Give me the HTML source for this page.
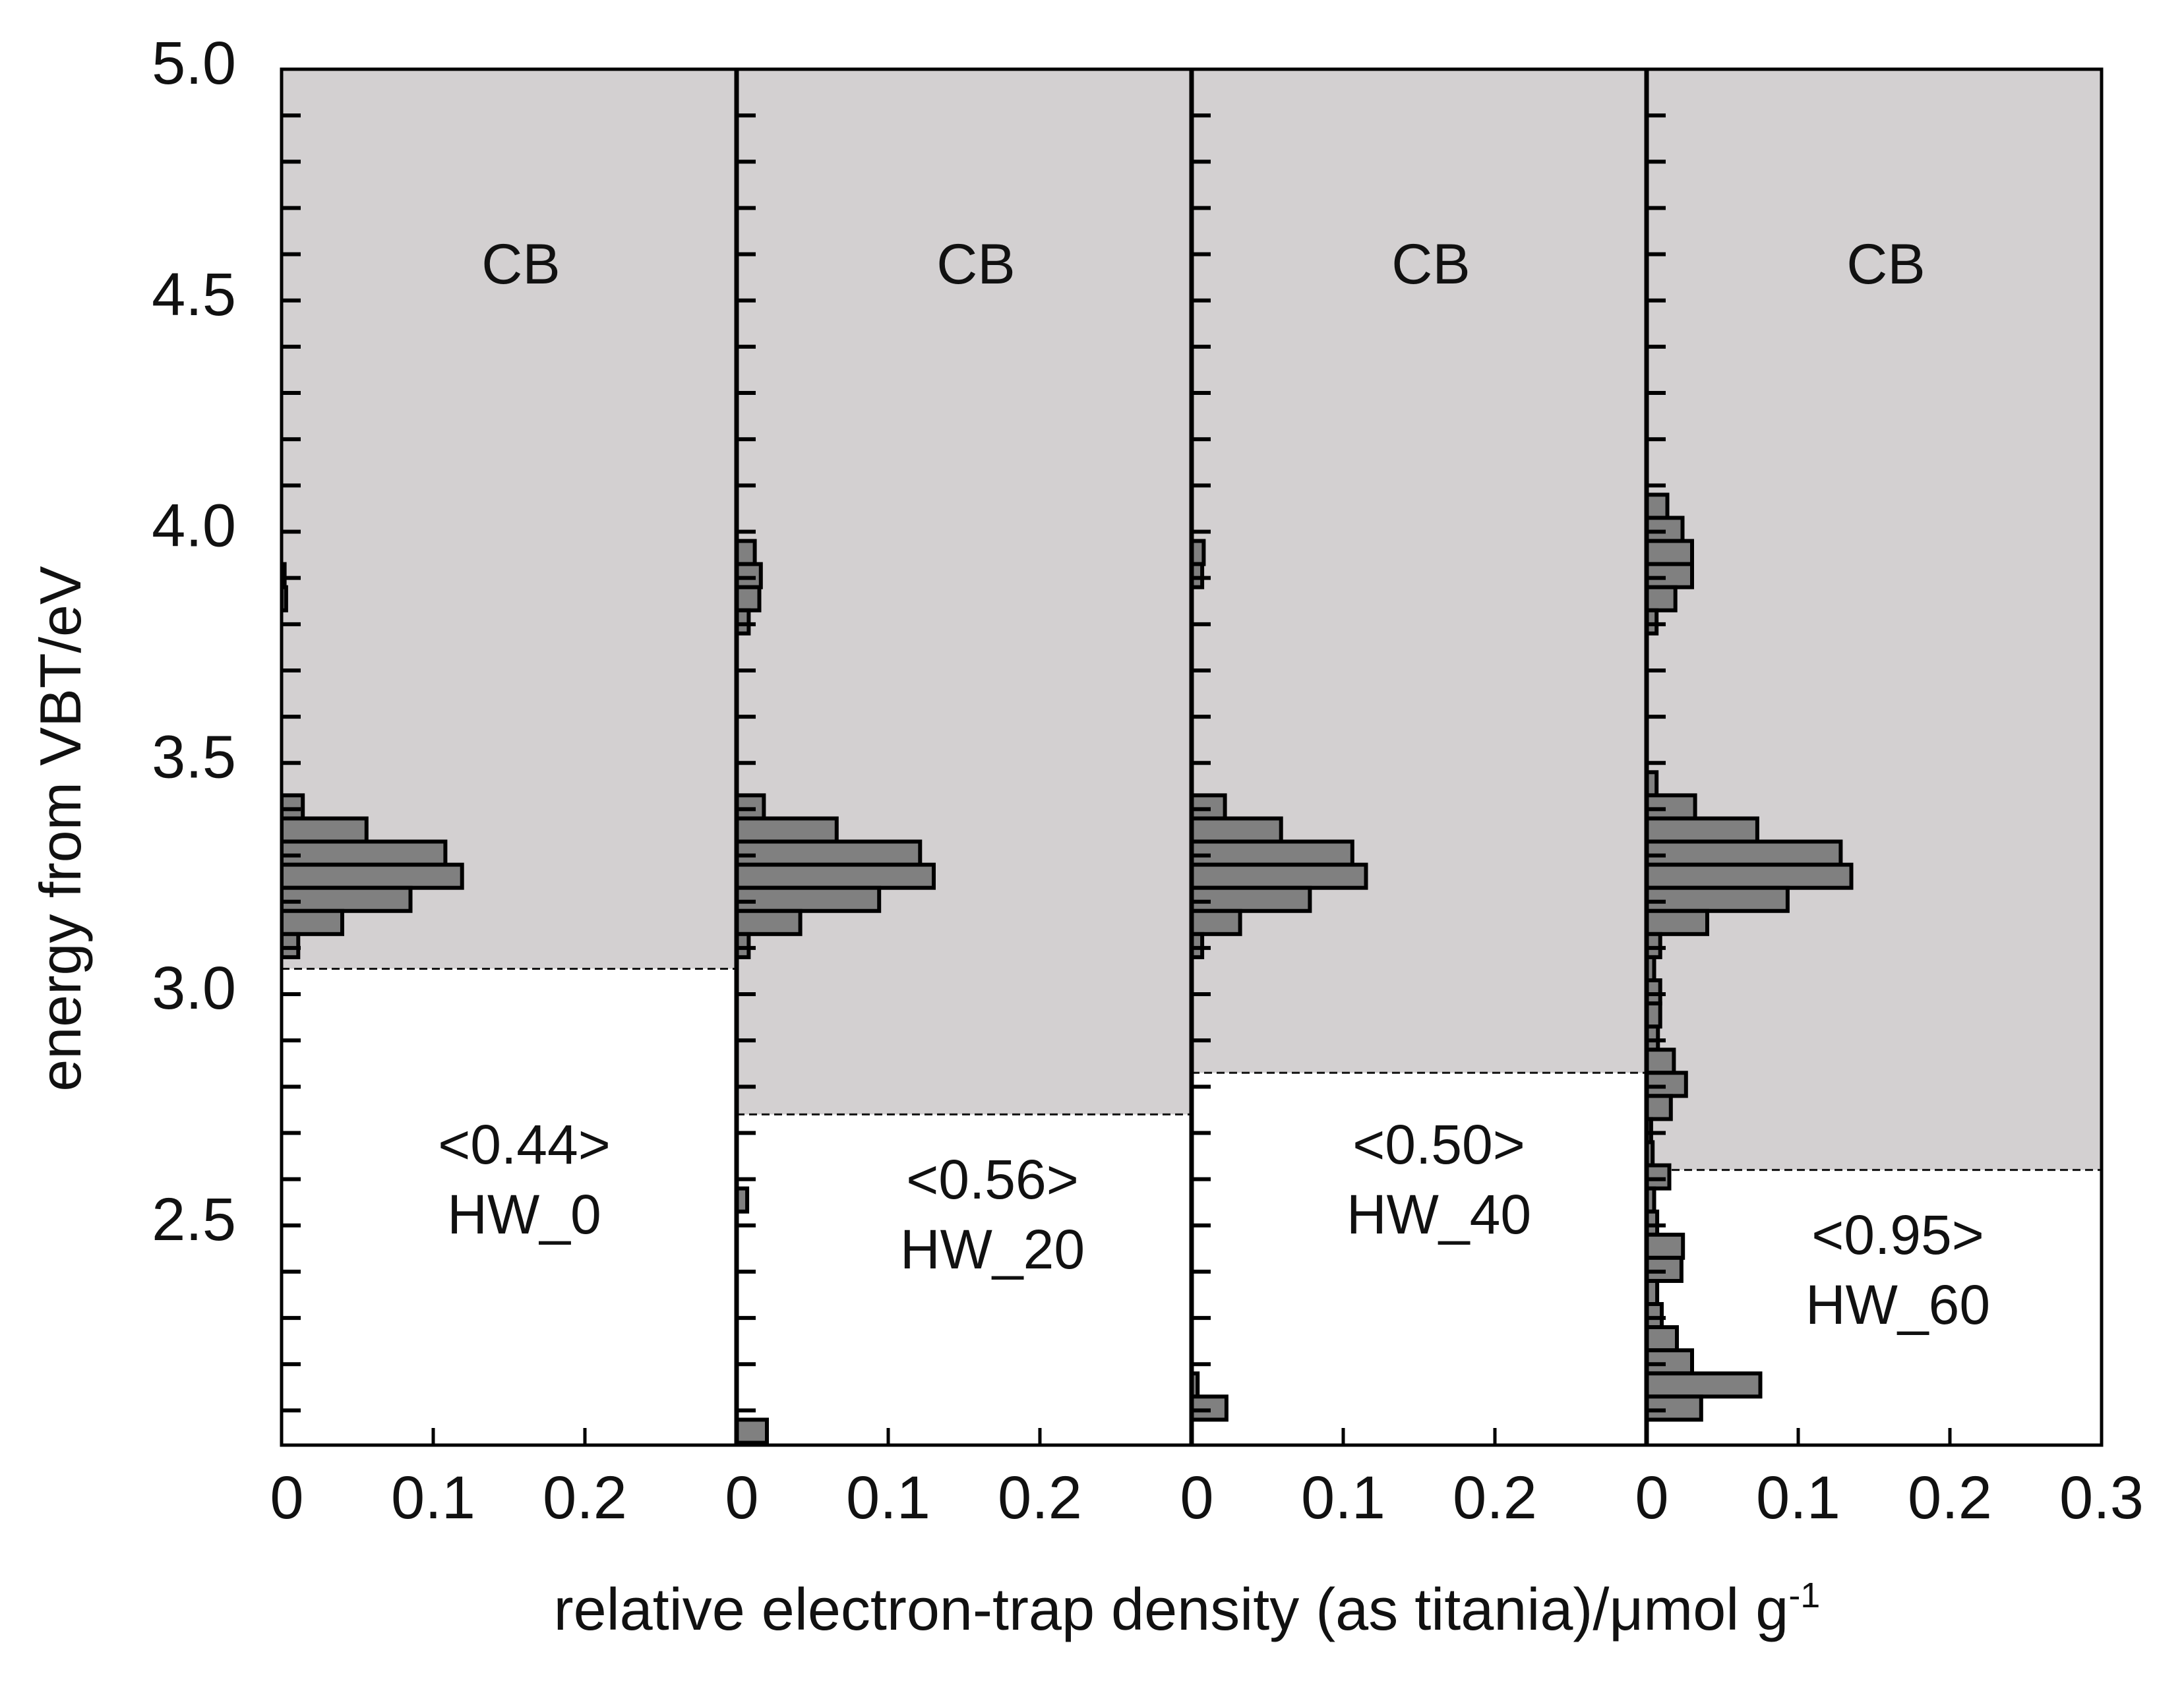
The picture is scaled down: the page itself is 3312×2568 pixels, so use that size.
<!DOCTYPE html>
<html><head><meta charset="utf-8"><style>
html,body{margin:0;padding:0;background:#fff;}
svg text{font-family:"Liberation Sans",sans-serif;fill:#111;}
</style></head><body>
<svg id="chart" xmlns="http://www.w3.org/2000/svg" width="3312" height="2563" viewBox="0 0 3312 2563">
<rect width="3312" height="2563" fill="#fff"/>
<defs><clipPath id="pc"><rect x="427" y="105" width="2760" height="2087"/></clipPath></defs>
<g id="bg"></g><g id="bars" clip-path="url(#pc)"></g><g id="axes"></g><g id="labels"></g>
</svg>
<script>
const panelNames = ["HW_0","HW_20","HW_40","HW_60"];
const avgLabels = ["<0.44>","<0.56>","<0.50>","<0.95>"];
const cbEdge = [3.055, 2.74, 2.83, 2.62];
const yTicks = [2.5, 3.0, 3.5, 4.0, 4.5, 5.0];
const yTickLabels = ["2.5","3.0","3.5","4.0","4.5","5.0"];
const xTicks = [0, 0.1, 0.2];
const xTickLabels = ["0","0.1","0.2"];
const hw0E = [3.905,3.855,3.405,3.355,3.305,3.255,3.205,3.155,3.105];
const hw0V = [0.002,0.003,0.014,0.056,0.108,0.119,0.085,0.040,0.011];
const hw20E = [3.955,3.905,3.855,3.805,3.405,3.355,3.305,3.255,3.205,3.155,3.105,2.555,2.055];
const hw20V = [0.012,0.016,0.015,0.008,0.018,0.066,0.121,0.130,0.094,0.042,0.008,0.007,0.020];
const hw40E = [3.955,3.905,3.405,3.355,3.305,3.255,3.205,3.155,3.105,2.155,2.105];
const hw40V = [0.008,0.007,0.022,0.059,0.106,0.115,0.078,0.032,0.007,0.004,0.023];
const hw60E = [4.055,4.005,3.955,3.905,3.855,3.805,3.455,3.405,3.355,3.305,3.255,3.205,3.155,3.105,3.055,3.005,2.955,2.905,2.855,2.805,2.755,2.705,2.655,2.605,2.555,2.505,2.455,2.405,2.355,2.305,2.255,2.205,2.155,2.105];
const hw60V = [0.0137,0.0237,0.030,0.030,0.019,0.0066,0.0066,0.032,0.073,0.128,0.135,0.093,0.040,0.009,0.005,0.009,0.009,0.0075,0.018,0.026,0.016,0.003,0.004,0.015,0.005,0.007,0.024,0.023,0.007,0.010,0.020,0.030,0.075,0.036];
const panelE = [hw0E, hw20E, hw40E, hw60E];
const panelV = [hw0V, hw20V, hw40V, hw60V];

const NS="http://www.w3.org/2000/svg";
const L=427, R=3187, T=105, B=2192, YMAX=5.0, YMIN=2.025, XMAX=0.3, BIN=0.05;
const PW=(R-L)/4;
const y=e=>T+(YMAX-e)/(YMAX-YMIN)*(B-T);
const x=(p,v)=>L+p*PW+v/XMAX*PW;
function mk(tag,attrs,parent){const el=document.createElementNS(NS,tag);for(const k in attrs)el.setAttribute(k,attrs[k]);parent.appendChild(el);return el;}
const bg=document.getElementById('bg'),bars=document.getElementById('bars'),axes=document.getElementById('axes'),lab=document.getElementById('labels');

for(let p=0;p<4;p++){
  const x0=x(p,0),x1=x(p,XMAX);
  const cb=mk('rect',{x:x0,y:T,width:x1-x0,height:y(cbEdge[p])-T,fill:'#d3d0d1'},bg);
  
  
  const dl=mk('line',{x1:x0,x2:x1,y1:y(cbEdge[p]),y2:y(cbEdge[p]),stroke:'#111','stroke-width':3,'stroke-dasharray':'12,7'},bg);
  
  
  const E=panelE[p],V=panelV[p];
  for(let i=0;i<E.length;i++){
    const r=mk('rect',{x:x0,y:y(E[i]+BIN/2),width:x(p,V[i])-x0,height:y(E[i]-BIN/2)-y(E[i]+BIN/2),fill:'#808080',stroke:'#000','stroke-width':6},bars);
    
    
  }
  for(let e=2.1;e<=4.95;e+=0.1){
    mk('line',{x1:x0,x2:x0+29,y1:y(e),y2:y(e),stroke:'#000','stroke-width':6},axes);
  }
  for(let i=1;i<xTicks.length;i++){
    mk('line',{x1:x(p,xTicks[i]),x2:x(p,xTicks[i]),y1:B,y2:B-26,stroke:'#000','stroke-width':5},axes);
  }
  for(let i=0;i<xTicks.length;i++){
    const t=mk('text',{x:x(p,xTicks[i])+(i==0?8:0),y:2303,'font-size':92,'text-anchor':'middle'},lab);
    t.textContent=xTickLabels[i];
    
    
  }
  const cx=(x0+x1)/2;
  const c=mk('text',{x:cx+18,y:430,'font-size':86,'text-anchor':'middle'},lab);
  c.textContent='CB';
  
  
  const ay=[1765,1818,1765,1902][p], ax=[23,43,30,36][p];
  const a=mk('text',{x:cx+ax,y:ay,'font-size':84,'text-anchor':'middle'},lab);
  a.textContent=avgLabels[p];
  
  
  const n=mk('text',{x:cx+ax,y:ay+106,'font-size':84,'text-anchor':'middle'},lab);
  n.textContent=panelNames[p];
  
  
  if(p>0){mk('line',{x1:x0,x2:x0,y1:T,y2:B,stroke:'#000','stroke-width':7},axes);}
}
const t3=mk('text',{x:R,y:2303,'font-size':92,'text-anchor':'middle'},lab);
t3.textContent='0.3';


const fr=mk('rect',{x:L,y:T,width:R-L,height:B-T,fill:'none',stroke:'#000','stroke-width':5},axes);


for(let i=0;i<yTicks.length;i++){
  const t=mk('text',{x:358,y:y(yTicks[i])+22,'font-size':92,'text-anchor':'end'},lab);
  t.textContent=yTickLabels[i];
  
  
}
const yt=mk('text',{x:0,y:0,'font-size':88,'text-anchor':'middle',transform:'translate(122,1257) rotate(-90)'},lab);
yt.textContent='energy from VBT/eV';


const xt=mk('text',{x:1800,y:2472,'font-size':90,'text-anchor':'middle'},lab);
xt.innerHTML='relative electron-trap density (as titania)/μmol g<tspan dy="-34" font-size="54">-1</tspan>';


</script>
</body></html>
